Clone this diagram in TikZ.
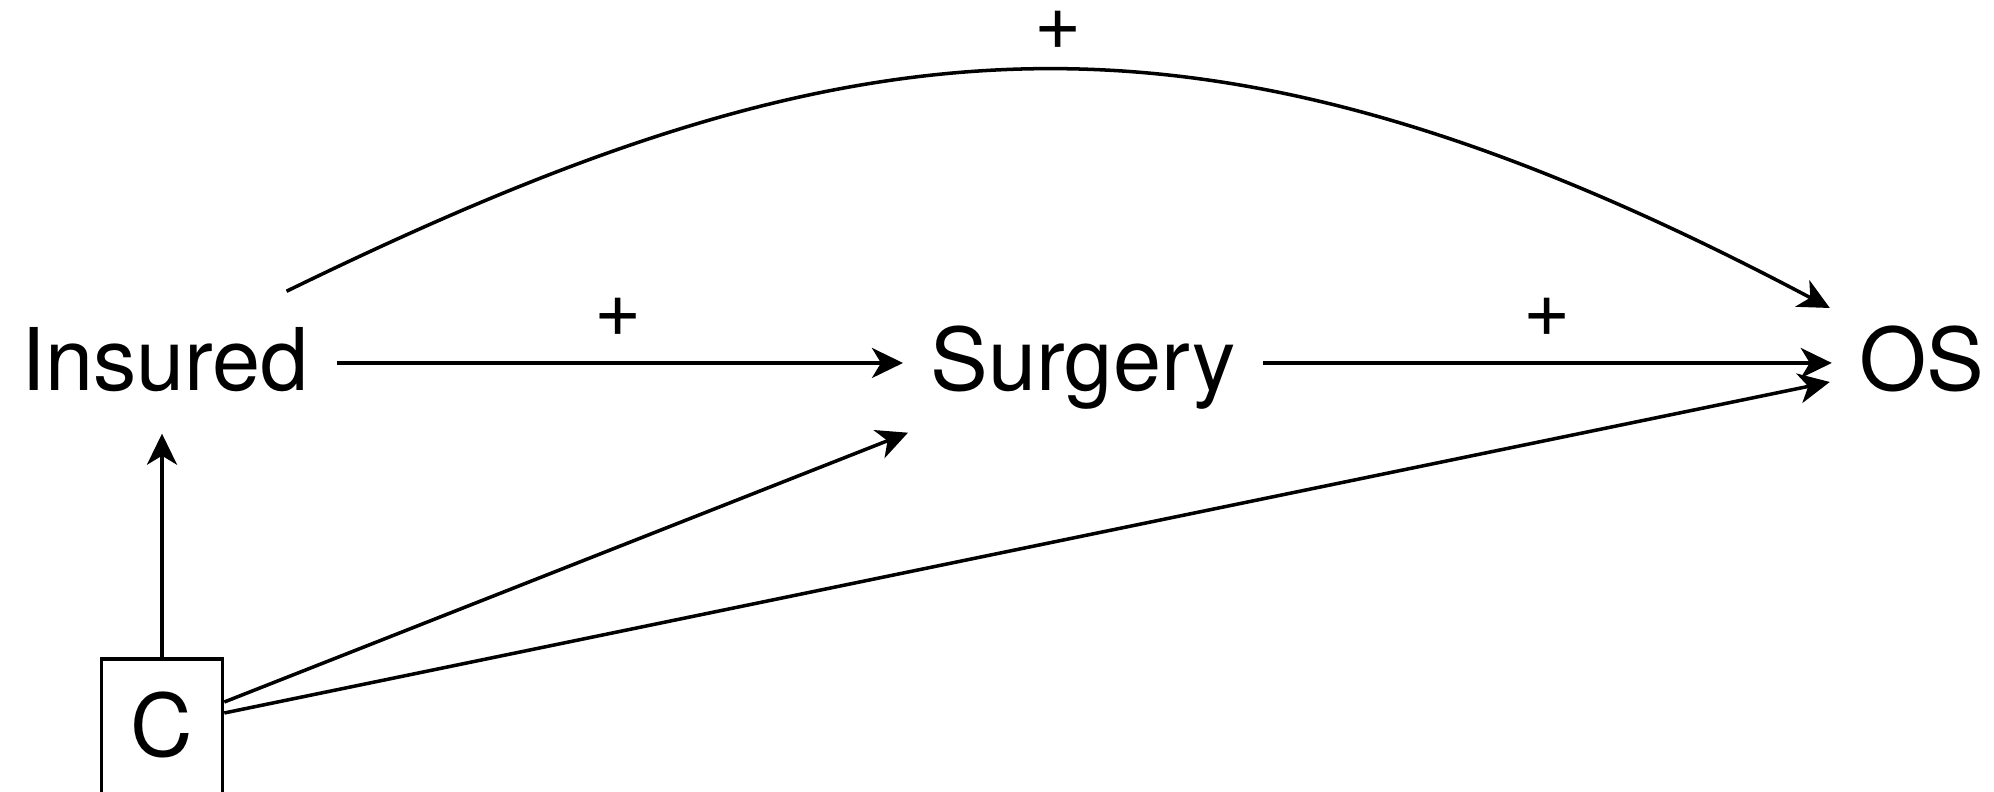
\documentclass[tikz,border=0pt]{standalone}
\usepackage{fontspec}
\setmainfont{TeX Gyre Heros}
\usetikzlibrary{arrows.meta,calc}
\begin{document}
\begin{tikzpicture}[x=0.01cm,y=-0.01cm,
  var/.style={font=\fontsize{24.6}{30}\selectfont, text height=0.64cm, text depth=0.08cm, inner xsep=0.27cm, inner ysep=0pt, anchor=base},
  sign/.style={font=\fontsize{23}{26}\selectfont, inner sep=0pt},
  arr/.style={line width=1pt, -{Stealth[length=0.31cm,width=0.3cm,inset=0.09cm]}},
  cbox/.style={draw, line width=1pt, font=\fontsize{24.6}{30}\selectfont, minimum width=1.21cm, text height=0.98cm, text depth=0.6cm, inner ysep=0pt, anchor=north}
]
\useasboundingbox (0,0) rectangle (1994,792);
\clip (0,0) rectangle (1994,792);
\node[var] (ins) at (165,391) {Insured};
\node[var] (sur) at (1083,391) {Surgery};
\node[var] (os) at (1922,391) {OS};
\node[cbox] (c) at (162,657) {C};
\node[sign] (p1) at (618,317) {+};
\node[sign] (p2) at (1547,317) {+};
\node[sign] (p3) at (1058,30) {+};
\draw[arr] (ins.east) -- (sur.west);
\draw[arr] (sur.east) -- (os.west);
\draw[arr] ($(ins.north east)+(-50,-35)$) .. controls +(560,-273) and +(-640,-339) .. ($(os.west)+(-2,-55)$);
\draw[arr] (c.north) -- ($(c.north |- ins.south)+(0,34)$);
\draw[arr] ($(c.north east)+(0,45)$) -- ($(sur.south west)+(5,33)$);
\draw[arr] ($(c.north east)+(0,56)$) -- ($(os.west)+(-2,19)$);
\end{tikzpicture}
\end{document}
